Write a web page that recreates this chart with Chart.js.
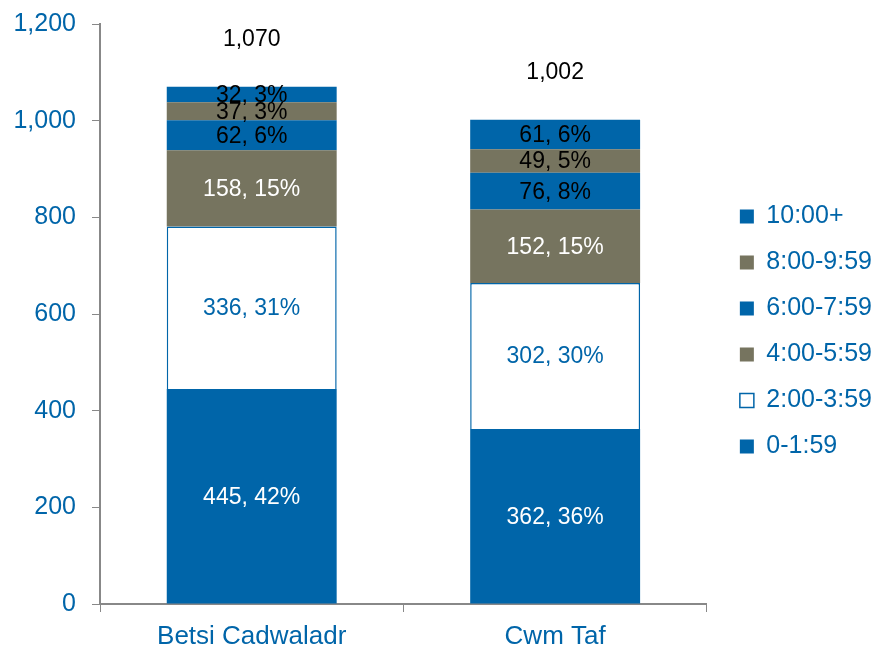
<!DOCTYPE html>
<html><head><meta charset="utf-8">
<script src="https://cdn.jsdelivr.net/npm/chart.js@4"></script>
<style>html,body{margin:0;padding:0;background:#fff}#w{width:882px;height:646px}</style>
</head><body><div id="w"><canvas id="c"></canvas></div>
<script>
const categories = ['Betsi Cadwaladr', 'Cwm Taf'];
const seriesNames = ['0-1:59', '2:00-3:59', '4:00-5:59', '6:00-7:59', '8:00-9:59', '10:00+'];
const v0_159 = [445, 362];
const v200_359 = [336, 302];
const v400_559 = [158, 152];
const v600_759 = [62, 76];
const v800_959 = [37, 49];
const v1000p = [32, 61];
const yTicks = [0, 200, 400, 600, 800, 1000, 1200];

const BLUE = '#0065a9', GREY = '#76745f';
const series = [v0_159, v200_359, v400_559, v600_759, v800_959, v1000p];
const fills = [BLUE, '#ffffff', GREY, BLUE, GREY, BLUE];
const labelColors = ['#ffffff', BLUE, '#ffffff', '#000000', '#000000', '#000000'];
const totals = categories.map((_, i) => series.reduce((s, a) => s + a[i], 0));

const datasets = series.map((d, k) => ({
  label: seriesNames[k], data: d, backgroundColor: fills[k],
  borderColor: k === 1 ? BLUE : fills[k], borderWidth: k === 1 ? 1.5 : 0,
  barPercentage: 0.56, categoryPercentage: 1.0, stack: 's'
}));

const FONT = "'Liberation Sans', Arial, sans-serif";
const labelPlugin = {
  id: 'lbl',
  afterDatasetsDraw(chart) {
    const ctx = chart.ctx;
    ctx.save();
    ctx.font = '23px ' + FONT;
    ctx.textAlign = 'center'; ctx.textBaseline = 'middle';
    chart.data.datasets.forEach((ds, k) => {
      chart.getDatasetMeta(k).data.forEach((el, i) => {
        const v = ds.data[i];
        const pct = Math.round(v / totals[i] * 100);
        ctx.fillStyle = labelColors[k];
        ctx.fillText(v + ', ' + pct + '%', el.x, (el.y + el.base) / 2 + 1);
      });
    });
    const top = chart.getDatasetMeta(series.length - 1).data;
    ctx.fillStyle = '#000';
    top.forEach((el, i) => {
      ctx.fillText(totals[i].toLocaleString('en-US'), el.x, el.y - 47);
    });
    ctx.restore();
  }
};

new Chart(document.getElementById('c'), {
  type: 'bar',
  data: { labels: categories, datasets },
  plugins: [labelPlugin],
  options: {
    responsive: true, maintainAspectRatio: false, animation: false,
    layout: { padding: { top: 0, left: 0, right: 0, bottom: 0 } },
    plugins: {
      tooltip: { enabled: false },
      legend: {
        position: 'right', reverse: true, maxWidth: 240,
        title: { display: true, text: '', font: { size: 1 }, padding: { top: 16, bottom: 0 } },
        labels: { font: { size: 25, family: FONT }, color: BLUE, boxWidth: 14, boxHeight: 14, padding: 21 }
      }
    },
    scales: {
      x: {
        stacked: true,
        afterFit(s) { s.height = 42; },
        grid: { drawOnChartArea: false, drawTicks: true, tickLength: 8, color: '#888', offset: true },
        border: { color: '#888', width: 2 },
        ticks: { font: { size: 26, family: FONT }, color: BLUE, padding: 9 }
      },
      y: {
        stacked: true, min: 0, max: 1200,
        afterFit(s) { s.width = 100; s.paddingTop = 24; s.paddingBottom = 0; },
        afterBuildTicks(ax) { ax.ticks = yTicks.map(v => ({ value: v })); },
        grid: { drawOnChartArea: false, drawTicks: true, tickLength: 8, color: '#888' },
        border: { color: '#888', width: 2 },
        ticks: { font: { size: 25, family: FONT }, color: BLUE, padding: 16,
          callback: v => v.toLocaleString('en-US') }
      },
      y2: {
        position: 'right', display: true,
        afterFit(s) { s.width = 12; s.paddingTop = 0; s.paddingBottom = 0; },
        grid: { display: false }, border: { display: false }, ticks: { display: false }
      }
    }
  }
});
</script></body></html>
